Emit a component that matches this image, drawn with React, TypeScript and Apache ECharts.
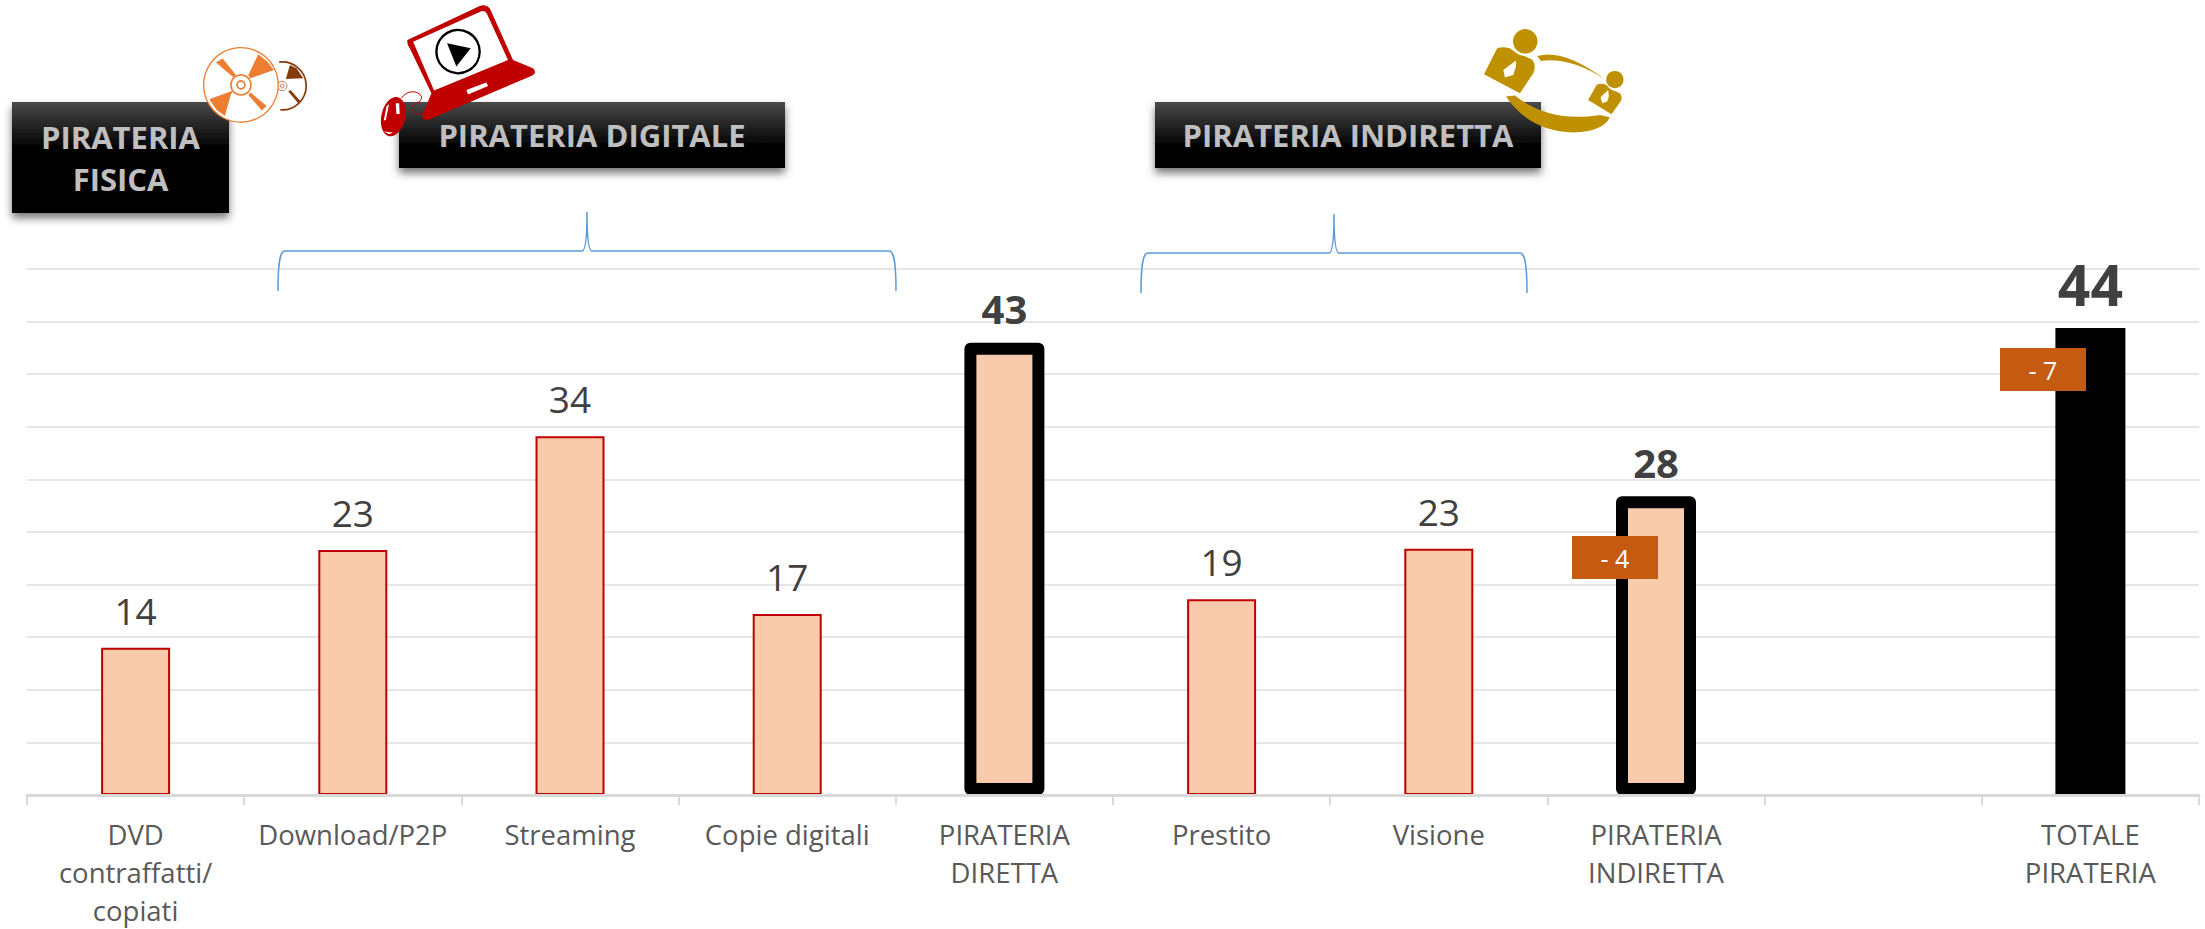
import React, { useEffect, useRef } from "react";
import * as echarts from "echarts";

const categories = [
  "DVD\ncontraffatti/\ncopiati",
  "Download/P2P",
  "Streaming",
  "Copie digitali",
  "PIRATERIA\nDIRETTA",
  "Prestito",
  "Visione",
  "PIRATERIA\nINDIRETTA",
  "",
  "TOTALE\nPIRATERIA",
];
const itemValues: (number | null)[] = [14, 23.3, 34.1, 17.2, null, 18.6, 23.4, null, null, null];
const sumValues: (number | null)[] = [null, null, null, null, 43, null, null, 28.4, null, null];
const totalValues: (number | null)[] = [null, null, null, null, null, null, null, null, null, 44.4];
const headers = [
  { lines: "PIRATERIA\nFISICA", x: 12, y: 102, w: 217, h: 111, stop: 0.42 },
  { lines: "PIRATERIA DIGITALE", x: 399, y: 102, w: 386, h: 66, stop: 0.68 },
  { lines: "PIRATERIA INDIRETTA", x: 1155, y: 102, w: 386, h: 66, stop: 0.68 },
];
const badges = [
  { text: "- 4", x: 1572, y: 536, w: 86, h: 43 },
  { text: "- 7", x: 2000, y: 348, w: 86, h: 43 },
];

const FONT = "'Open Sans', sans-serif";

function brace(l: number, m: number, r: number, top: number, mid: number, bot: number) {
  return `M${l},${bot} C${l},${mid + 11} ${l + 2},${mid} ${l + 7},${mid} L${m - 5},${mid} C${m - 2},${mid} ${m},${mid - 11} ${m},${top} C${m},${mid - 11} ${m + 2},${mid} ${m + 5},${mid} L${r - 7},${mid} C${r - 2},${mid} ${r},${mid + 11} ${r},${bot}`;
}

const reg = (n: string, d: string) => echarts.graphic.registerShape(n, echarts.graphic.extendPath(d, {}));
reg("brace1", brace(278, 587, 896, 212, 251, 291));
reg("brace2", brace(1141, 1334, 1527, 214, 253, 293));
reg("laptop", "M683,120 L900,18 Q925,10 935,35 L1000,180 L1060,205 Q1075,220 1055,228 L745,360 Q730,365 728,345 L755,280 L690,145 Q680,130 683,120 Z");
reg("screen", "M700,125 L905,34 Q917,31 922,42 L985,180 L763,272 Z");
reg("cable", "M665,295 C680,270 715,270 725,290 C730,310 695,310 695,325 C695,340 720,345 735,342");
reg("bodyA", "M72,193 L110,118 Q118,108 150,115 L170,130 Q180,138 197,140 L218,150 Q230,170 220,190 L180,250 Z");
reg("bodyB", "M385,270 L410,225 Q420,218 440,225 Q450,240 465,243 L480,250 Q490,262 482,275 L455,313 Z");
reg("swoopTop", "M232,138 Q310,115 435,208 Q330,140 243,153 Z");
reg("swoopBot", "M138,260 L165,257 Q270,340 420,315 L450,322 Q430,365 340,368 Q210,365 138,260 Z");

const ORANGE = "#ED7D31";
const BROWN = "#843C0C";
const RED = "#C00000";
const GOLD = "#BF9000";

const poly = (points: number[][], fill: string) => ({ type: "polygon", shape: { points }, style: { fill } });
const icon = (x: number, y: number, children: any[]) => ({
  type: "group", x, y, scaleX: 1 / 3, scaleY: 1 / 3,
  children: children.map((c) => ({ ...c, z: 60 })),
});

const cdIcon = icon(180, 0, [
  { type: "arc", shape: { cx: 307, cy: 258, r: 72, startAngle: -1.7, endAngle: 1.65, clockwise: true }, style: { stroke: BROWN, lineWidth: 5, fill: "none" } },
  poly([[318, 237], [330, 195], [350, 205], [370, 235]], BROWN),
  poly([[325, 275], [332, 270], [362, 304], [355, 310]], BROWN),
  { type: "circle", shape: { cx: 307, cy: 258, r: 14 }, style: { stroke: BROWN, lineWidth: 2, fill: "none" } },
  { type: "circle", shape: { cx: 307, cy: 258, r: 6 }, style: { stroke: BROWN, lineWidth: 2, fill: "none" } },
  { type: "circle", shape: { cx: 183, cy: 255, r: 112 }, style: { stroke: ORANGE, lineWidth: 4, fill: "#fff" } },
  poly([[235, 163], [262, 185], [282, 210], [212, 235], [205, 226]], ORANGE),
  poly([[88, 298], [160, 272], [152, 285], [135, 348], [110, 330]], ORANGE),
  poly([[108, 188], [128, 176], [168, 225], [160, 232]], ORANGE),
  poly([[205, 285], [212, 278], [260, 318], [246, 332]], ORANGE),
  { type: "circle", shape: { cx: 183, cy: 255, r: 30 }, style: { stroke: ORANGE, lineWidth: 5, fill: "#fff" } },
  { type: "circle", shape: { cx: 183, cy: 255, r: 12 }, style: { stroke: ORANGE, lineWidth: 5, fill: "#fff" } },
]);

const laptopIcon = icon(180, 0, [
  { type: "laptop", style: { fill: RED } },
  { type: "screen", style: { fill: "#fff" } },
  poly([[860, 270], [920, 248], [925, 258], [865, 284]], "#fff"),
  { type: "circle", shape: { cx: 835, cy: 155, r: 65 }, style: { stroke: "#000", lineWidth: 7, fill: "#fff" } },
  poly([[802, 130], [873, 145], [830, 200]], "#000"),
  { type: "cable", style: { stroke: RED, lineWidth: 3, fill: "none" } },
  { type: "ellipse", x: 640, y: 350, rotation: -0.22, shape: { cx: 0, cy: 0, rx: 36, ry: 60 }, style: { fill: RED } },
  poly([[648, 310], [658, 310], [660, 342], [650, 342]], "#fff"),
  poly([[612, 395], [640, 398], [628, 403]], "#fff"),
  poly([[620, 320], [628, 312], [618, 360], [612, 362]], "#fff"),
]);

const peopleIcon = icon(1460, 10, [
  { type: "swoopBot", style: { fill: GOLD } },
  { type: "swoopTop", style: { fill: GOLD } },
  { type: "circle", shape: { cx: 196, cy: 94, r: 37 }, style: { fill: GOLD } },
  { type: "bodyA", style: { fill: GOLD } },
  poly([[168, 152], [130, 180], [135, 203], [160, 195], [168, 170]], "#fff"),
  { type: "circle", shape: { cx: 465, cy: 209, r: 26 }, style: { fill: GOLD } },
  { type: "bodyB", style: { fill: GOLD } },
  poly([[445, 240], [422, 262], [427, 280], [442, 275], [447, 260]], "#fff"),
]);

const headerEls = headers.flatMap((h) => [
  {
    type: "rect", z: 50,
    shape: { x: h.x, y: h.y, width: h.w, height: h.h },
    style: {
      fill: new echarts.graphic.LinearGradient(0, 0, 0, 1, [
        { offset: 0, color: "#4a4a4a" },
        { offset: h.stop, color: "#000000" },
        { offset: 1, color: "#000000" },
      ]),
      shadowBlur: 8, shadowOffsetY: 5, shadowColor: "rgba(0,0,0,0.55)",
    },
  },
  {
    type: "text", z: 51, x: h.x + h.w / 2, y: h.y + h.h / 2,
    style: {
      text: h.lines, fill: "#BFBFBF", font: `700 31px ${FONT}`,
      align: "center", verticalAlign: "middle", lineHeight: 42,
    },
  },
]);

const badgeEls = badges.flatMap((b) => [
  { type: "rect", z: 70, shape: { x: b.x, y: b.y, width: b.w, height: b.h }, style: { fill: "#C55A11" } },
  {
    type: "text", z: 71, x: b.x + b.w / 2, y: b.y + b.h / 2,
    style: { text: b.text, fill: "#fff", font: `25px ${FONT}`, align: "center", verticalAlign: "middle" },
  },
]);

const braceEls = ["brace1", "brace2"].map((t) => ({
  type: t, z: 40, style: { stroke: "#5B9BD5", lineWidth: 1.5, fill: "none" },
}));

const hiddenAxis = { type: "category", data: categories, show: false };
const fmt = (p: any) => (p.value == null ? "" : String(Math.round(p.value)));

export default function App() {
  const ref = useRef<HTMLDivElement>(null);
  useEffect(() => {
    document.body.style.margin = "0";
    const chart = echarts.init(ref.current!, undefined, { renderer: "svg" });
    chart.setOption({
      animation: false,
      backgroundColor: "#ffffff",
      textStyle: { fontFamily: FONT },
      grid: { left: 27, right: 6, top: 269, bottom: 134, containLabel: false, outerBoundsMode: "none" },
      xAxis: [
        {
          type: "category",
          data: categories,
          z: 5,
          axisLine: { lineStyle: { color: "#D9D9D9", width: 3 } },
          axisTick: { show: true, length: 10, alignWithLabel: false, lineStyle: { color: "#D9D9D9", width: 2 } },
          axisLabel: { interval: 0, color: "#595959", fontSize: 27.5, lineHeight: 38, margin: 20, fontFamily: FONT },
        },
        hiddenAxis,
        hiddenAxis,
      ],
      yAxis: {
        type: "value",
        min: 0,
        max: 50,
        interval: 5,
        axisLine: { show: false },
        axisTick: { show: false },
        axisLabel: { show: false },
        splitLine: { lineStyle: { color: "#E7E6E6", width: 2 } },
      },
      series: [
        {
          type: "bar",
          xAxisIndex: 0,
          barWidth: 69,
          data: itemValues,
          itemStyle: { color: "#F8CBAD", borderColor: RED, borderWidth: 2 },
          label: { show: true, position: "top", color: "#404040", fontFamily: FONT, fontSize: 37, distance: 19, formatter: fmt },
        },
        {
          type: "bar",
          xAxisIndex: 1,
          barWidth: 80,
          data: sumValues,
          itemStyle: { color: "#F8CBAD", borderColor: "#000", borderWidth: 12, borderJoin: "round" },
          label: { show: true, position: "top", color: "#404040", fontFamily: FONT, fontSize: 40, fontWeight: 700, distance: 14, formatter: fmt },
        },
        {
          type: "bar",
          xAxisIndex: 2,
          barWidth: 70,
          data: totalValues,
          itemStyle: { color: "#000" },
          label: { show: true, position: "top", color: "#404040", fontFamily: FONT, fontSize: 57, fontWeight: 700, distance: 15, formatter: fmt },
        },
      ],
      graphic: [...braceEls, ...headerEls, cdIcon, laptopIcon, peopleIcon, ...badgeEls],
    });
    return () => chart.dispose();
  }, []);
  return <div ref={ref} style={{ width: 2205, height: 929, position: "absolute", left: 0, top: 0 }} />;
}
